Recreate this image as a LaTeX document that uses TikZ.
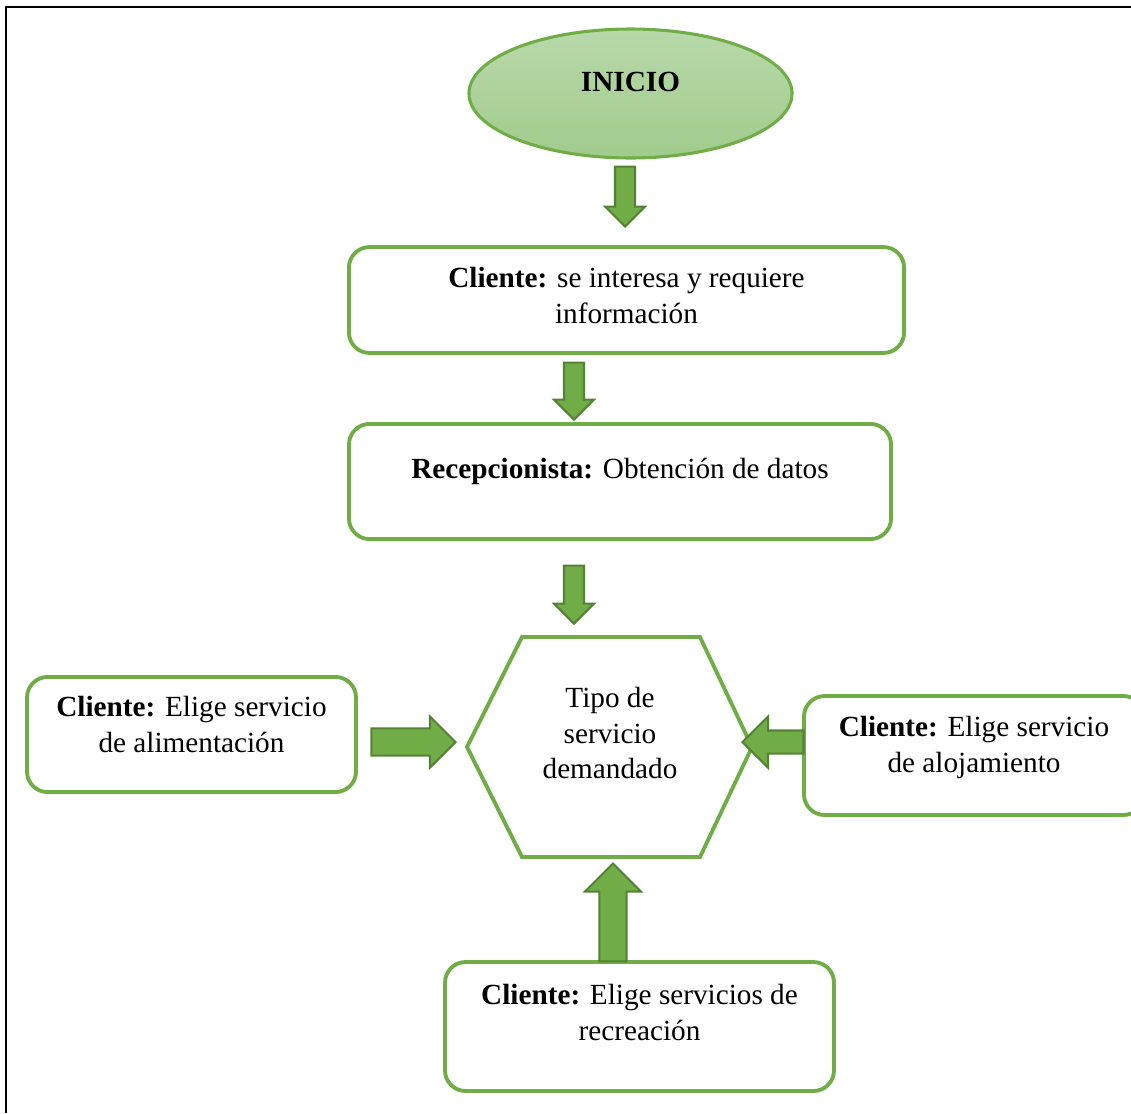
\documentclass[tikz,border=0pt]{standalone}
\usepackage{fontspec}
\setmainfont{Liberation Serif}
\usetikzlibrary{shapes.geometric,shapes.arrows}
\definecolor{hojaverde}{HTML}{70AD47}
\definecolor{verdeosc}{HTML}{548235}
\definecolor{verdeclaro}{HTML}{B8D9AA}
\definecolor{verdemedio}{HTML}{A1CB8C}
\begin{document}
\begin{tikzpicture}[x=0.39pt,y=-0.39pt,
  caja/.style={draw=hojaverde, line width=1.5pt, rounded corners=8pt, align=center,
    inner sep=0pt, font=\fontsize{11.4}{14}\selectfont},
  flecha/.style={single arrow, draw=verdeosc, fill=hojaverde, line width=0.8pt,
    inner sep=0pt, single arrow head indent=0pt, anchor=tip}]
  \useasboundingbox (0,0) rectangle (1131,1113);
  \draw[line width=0.9pt] (6,1113) -- (6,7) -- (1131,7);
  % inicio
  \node[ellipse, draw=hojaverde, line width=1.2pt, top color=verdeclaro, bottom color=verdemedio,
    minimum width=126pt, minimum height=50.3pt, inner sep=0pt, text depth=9pt,
    font=\fontsize{11.4}{14}\selectfont\bfseries] (inicio) at (630.5,93.5) {INICIO};
  \node[flecha, shape border rotate=270, minimum height=23.4pt, minimum width=14.8pt,
    inner sep=3.5pt, single arrow head extend=3.9pt] (f1) at (625,228) {};
  % pasos
  \node[caja, minimum width=216.5pt, minimum height=41.3pt, text depth=3.4pt] (cliente) at (626.5,300)
    {\textbf{Cliente:} se interesa y requiere\\información};
  \node[flecha, shape border rotate=270, minimum height=22.2pt, minimum width=14.8pt,
    inner sep=3.5pt, single arrow head extend=3.9pt] (f2) at (574,421) {};
  \node[caja, minimum width=211.4pt, minimum height=44.9pt, text depth=10pt] (recep) at (620,481.5)
    {\textbf{Recepcionista:} Obtención de datos};
  \node[flecha, shape border rotate=270, minimum height=22.6pt, minimum width=14.8pt,
    inner sep=3.5pt, single arrow head extend=3.9pt] (f3) at (574,625) {};
  % tipo de servicio
  \draw[hojaverde, line width=1.5pt] (467,747) -- (522,637) -- (700,637) -- (752,747)
    -- (700,857) -- (522,857) -- cycle;
  \node[align=center, font=\fontsize{11.4}{14}\selectfont, text depth=11pt] (tipo) at (610,747)
    {Tipo de\\servicio\\demandado};
  % opciones
  \node[caja, minimum width=128.3pt, minimum height=44.9pt, text depth=7.6pt] (alim) at (191.5,734.5)
    {\textbf{Cliente:} Elige servicio\\de alimentación};
  \node[flecha, minimum height=32.8pt, minimum width=19.1pt,
    inner sep=4.9pt, single arrow head extend=4.7pt] (fa) at (457,742) {};
  \node[caja, minimum width=132.6pt, minimum height=46.4pt, text depth=8.4pt] (aloj) at (974,755.5)
    {\textbf{Cliente:} Elige servicio\\de alojamiento};
  \node[flecha, shape border rotate=180, minimum height=23.8pt, minimum width=19.1pt,
    inner sep=4.1pt, single arrow head extend=5.5pt] (fo) at (741,742) {};
  \node[caja, minimum width=151.7pt, minimum height=50.3pt, text depth=10.8pt] (recre) at (639.5,1026.5)
    {\textbf{Cliente:} Elige servicios de\\recreación};
  \node[flecha, shape border rotate=90, minimum height=38.2pt, minimum width=21.1pt,
    inner sep=4.9pt, single arrow head extend=5.7pt] (fr) at (613,862) {};
\end{tikzpicture}
\end{document}
